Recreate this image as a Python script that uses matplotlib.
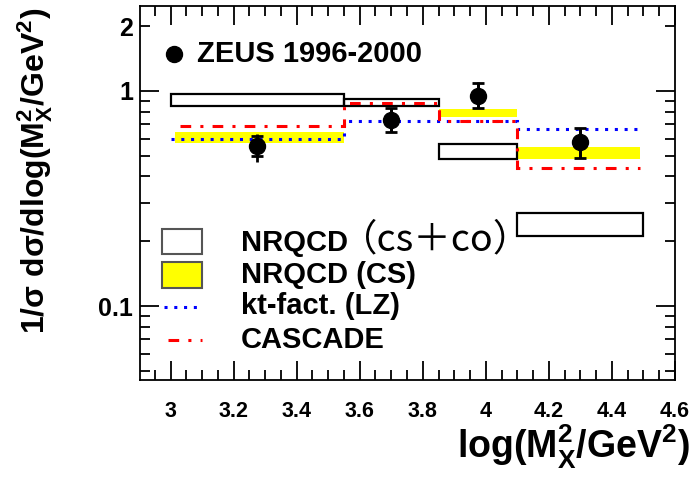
import matplotlib
matplotlib.use("Agg")
import matplotlib.pyplot as plt
from matplotlib.patches import Rectangle
from matplotlib.lines import Line2D

plt.rcParams["font.family"] = ["Liberation Sans", "DejaVu Sans"]
plt.rcParams["font.weight"] = "bold"
plt.rcParams["mathtext.fontset"] = "custom"
plt.rcParams["mathtext.rm"] = "Liberation Sans:bold"
plt.rcParams["mathtext.it"] = "Liberation Sans:bold"
plt.rcParams["mathtext.bf"] = "Liberation Sans:bold"

# bin edges in log(M_X^2/GeV^2)
edges = [3.0, 3.55, 3.85, 4.1, 4.5]

# NRQCD (CS+CO) band
nrqcd_lo = [0.854, 0.854, 0.481, 0.212]
nrqcd_hi = [0.965, 0.918, 0.567, 0.272]

# NRQCD (CS) band
cs_edges = [3.015, 3.55, 3.85, 4.1, 4.49]
cs_lo = [0.571, 0.850, 0.760, 0.481]
cs_hi = [0.642, 0.862, 0.825, 0.549]

# kt-factorisation (LZ) and CASCADE
kt = [0.596, 0.727, 0.727, 0.666]
cascade_edges = [3.03, 3.55, 3.85, 4.1, 4.49]
cascade = [0.688, 0.877, 0.725, 0.440]

# ZEUS 1996-2000 data
zeus_x = [3.275, 3.70, 3.975, 4.30]
zeus_y = [0.557, 0.733, 0.951, 0.577]
stat_lo = [0.499, 0.642, 0.830, 0.490]
stat_hi = [0.620, 0.830, 1.086, 0.675]
tot_lo = [0.466, 0.642, 0.830, 0.490]
tot_hi = [0.630, 0.830, 1.100, 0.675]

fig = plt.figure(figsize=(6.98, 4.8), dpi=100)
ax = fig.add_axes([0.2006, 0.2083, 0.7664, 0.7792])

# yellow CS band
for i in range(4):
    ax.bar(cs_edges[i], cs_hi[i] - cs_lo[i], width=cs_edges[i + 1] - cs_edges[i],
           bottom=cs_lo[i], align="edge", color="#ffff00", linewidth=0, zorder=1)

# open CS+CO boxes
for i in range(4):
    ax.bar(edges[i], nrqcd_hi[i] - nrqcd_lo[i], width=edges[i + 1] - edges[i],
           bottom=nrqcd_lo[i], align="edge", fill=False, edgecolor="black",
           linewidth=1.6, zorder=3)

ax.stairs(kt, edges, baseline=None, color="blue", linewidth=2.2,
          linestyle=(0, (1, 2.2)), zorder=4)
ax.stairs(cascade, cascade_edges, baseline=None, color="red", linewidth=2.2,
          linestyle=(0, (3.5, 3, 1, 3)), zorder=4)

# data points: total errors as plain lines, stat errors with caps
ylo = [y - lo for y, lo in zip(zeus_y, tot_lo)]
yhi = [hi - y for y, hi in zip(zeus_y, tot_hi)]
ax.errorbar(zeus_x, zeus_y, yerr=[ylo, yhi], fmt="none", ecolor="black",
            elinewidth=2, capsize=0, zorder=5)
ylo = [y - lo for y, lo in zip(zeus_y, stat_lo)]
yhi = [hi - y for y, hi in zip(zeus_y, stat_hi)]
ax.errorbar(zeus_x, zeus_y, yerr=[ylo, yhi], fmt="o", color="black",
            markersize=11.5, elinewidth=2, capsize=4.5, capthick=2, zorder=6)

ax.set_yscale("log")
ax.set_xlim(2.903, 4.6)
ax.set_ylim(0.0453, 2.48)

ax.set_xticks([3, 3.2, 3.4, 3.6, 3.8, 4, 4.2, 4.4, 4.6],
              labels=["3", "3.2", "3.4", "3.6", "3.8", "4", "4.2", "4.4", "4.6"])
ax.set_xticks([2.95 + 0.05 * k for k in range(33)], minor=True)
ax.set_yticks([0.1, 1], labels=["0.1", "1"])
minor_y = [0.05, 0.06, 0.07, 0.08, 0.09, 0.2, 0.3, 0.4, 0.5, 0.6, 0.7, 0.8, 0.9, 2]
ax.set_yticks(minor_y, labels=["" if v != 2 else "2" for v in minor_y], minor=True)

ax.tick_params(which="both", direction="in", top=True, right=True, width=1.3)
ax.tick_params(which="major", length=14)
ax.tick_params(which="minor", length=7)
ax.tick_params(axis="x", which="both", pad=15, labelsize=15.5)
ax.tick_params(axis="y", which="both", pad=5, labelsize=18)
for s in ax.spines.values():
    s.set_linewidth(1.3)

# legend, drawn by hand
ax.plot([0.0636], [0.872], "o", color="black", markersize=11.5, transform=ax.transAxes)
ax.text(0.1065, 0.872, "ZEUS 1996-2000", transform=ax.transAxes, fontsize=21,
        fontweight="bold", va="center")

ax.add_patch(Rectangle((0.0406, 0.336), 0.0758, 0.068, transform=ax.transAxes,
                       facecolor="white", edgecolor="#555555", linewidth=1.5))
ax.add_patch(Rectangle((0.0406, 0.245), 0.0758, 0.071, transform=ax.transAxes,
                       facecolor="#ffff00", edgecolor="#555555", linewidth=1.5))
ax.add_line(Line2D([0.045, 0.118], [0.196, 0.196], transform=ax.transAxes,
                   color="blue", linewidth=2.2, linestyle=(0, (1, 2.2))))
ax.add_line(Line2D([0.052, 0.116], [0.107, 0.107], transform=ax.transAxes,
                   color="red", linewidth=2.2, linestyle=(0, (3.5, 3, 1, 3))))

ax.text(0.189, 0.366, "NRQCD", transform=ax.transAxes, fontsize=21, va="center")
ax.text(0.374, 0.375, "（cs＋co）", transform=ax.transAxes, fontsize=27,
        fontweight="normal", va="center", family=["Noto Sans CJK JP", "DejaVu Sans"])
ax.text(0.189, 0.281, "NRQCD (CS)", transform=ax.transAxes, fontsize=21, va="center")
ax.text(0.189, 0.198, "kt-fact. (LZ)", transform=ax.transAxes, fontsize=21, va="center")
ax.text(0.189, 0.107, "CASCADE", transform=ax.transAxes, fontsize=21, va="center")

fig.text(0.989, 0.069, r"log(M$_X^2$/GeV$^2$)", ha="right", va="center", fontsize=27)
fig.text(0.05, 0.985, r"1/σ dσ/dlog(M$_X^2$/GeV$^2$)", ha="center", va="top",
         rotation=90, fontsize=23)

fig.savefig("out.png", dpi=100)
